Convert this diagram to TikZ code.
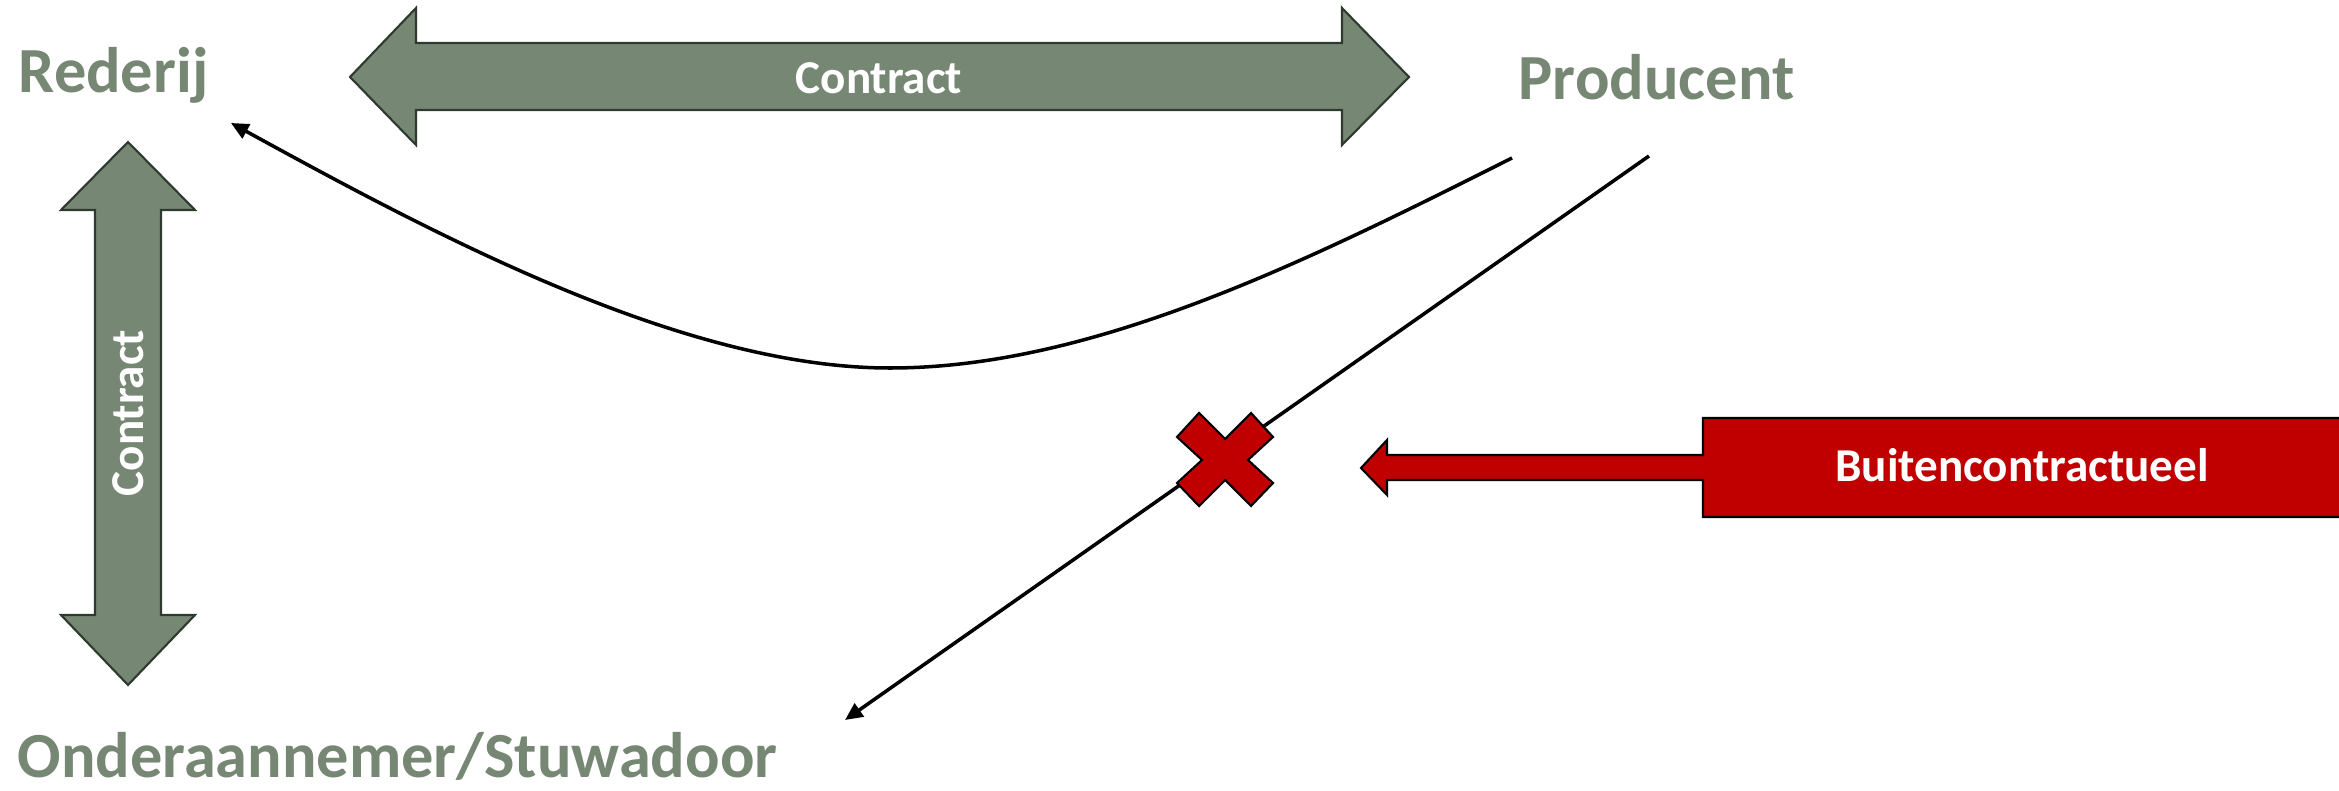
\documentclass[tikz,border=0pt]{standalone}
\usepackage{fontspec}
\setmainfont{Carlito}
\usetikzlibrary{arrows.meta}
\definecolor{grn}{RGB}{118,135,116}
\definecolor{grnline}{RGB}{47,58,47}
\definecolor{rd}{RGB}{192,0,0}
\begin{document}
\begin{tikzpicture}[x=0.01cm,y=-0.01cm,
  party/.style={font=\bfseries\fontsize{18.3}{20}\selectfont, text=grn, inner sep=0pt, anchor=base west},
  garrow/.style={fill=grn, draw=grnline, line width=0.6pt, line join=miter},
  rarrow/.style={fill=rd, draw=black, line width=0.6pt, line join=miter},
  lbl/.style={font=\bfseries\fontsize{13.4}{15}\selectfont, text=white, inner sep=0pt},
  conn/.style={line width=1pt, -{Triangle[length=5pt,width=4.5pt]}}]
\useasboundingbox (0,0) rectangle (2339,791);

% parties
\node[party] (rederij) at (18,93) {Rederij};
\node[party] (producent) at (1518,100) {Producent};
\node[party] (onder) at (17,777) {Onderaannemer/Stuwadoor};

% connector end points
\coordinate (cs) at (1512,158);
\coordinate (cb) at (890,368);
\coordinate (ce) at (231,123);
\coordinate (ls) at (1649,156);
\coordinate (le) at (845,720);

% curved connector Producent -> Rederij
\draw[conn] (cs) .. controls (1307,261) and (1093,368) .. (cb)
  .. controls (684,368) and (437,236) .. (ce);
% straight connector Producent -> Onderaannemer
\draw[conn] (ls) -- (le);

% horizontal contract arrow
\draw[garrow] (350,77) -- (416,8) -- (416,43) -- (1342,43) -- (1342,8) -- (1409,77)
  -- (1342,145) -- (1342,110) -- (416,110) -- (416,145) -- cycle;
\node[lbl] (contracth) at (879,78) {Contract};

% vertical contract arrow
\draw[garrow] (128,142) -- (195,210) -- (161,210) -- (161,615) -- (195,615) -- (128,685)
  -- (61,615) -- (95,615) -- (95,210) -- (61,210) -- cycle;
\node[lbl, rotate=90] (contractv) at (128,413) {Contract};

% red cross
\draw[rarrow] (1177,437) -- (1199,413) -- (1225,439) -- (1251,413) -- (1273,437)
  -- (1248,460) -- (1273,483) -- (1251,506) -- (1225,480) -- (1199,506)
  -- (1177,483) -- (1202,460) -- cycle;

% red arrow with box
\draw[rarrow] (1361,468) -- (1387,440) -- (1387,455) -- (1703,455) -- (1703,418)
  -- (2345,418) -- (2345,517) -- (1703,517) -- (1703,480) -- (1387,480) -- (1387,495) -- cycle;
\node[lbl] (buiten) at (2022,465) {Buitencontractueel};
\end{tikzpicture}
\end{document}
